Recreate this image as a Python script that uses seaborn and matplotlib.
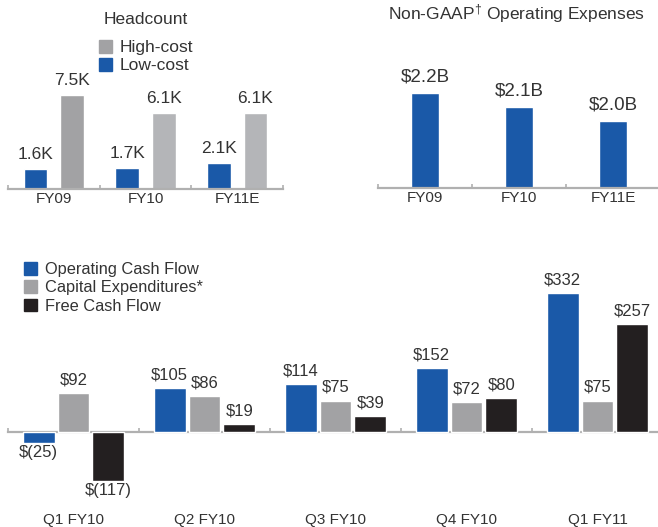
import numpy as np
import pandas as pd
import seaborn as sns
import matplotlib.pyplot as plt
from matplotlib.patches import Patch

# data
years = ["FY09", "FY10", "FY11E"]
low_cost = [1.6, 1.7, 2.1]      # K heads
high_cost = [7.5, 6.1, 6.1]
opex = [2.2, 2.1, 2.0]          # $B
quarters = ["Q1 FY10", "Q2 FY10", "Q3 FY10", "Q4 FY10", "Q1 FY11"]
ocf = [-25, 105, 114, 152, 332]  # $M
capex = [92, 86, 75, 72, 75]
fcf = [-117, 19, 39, 80, 257]

BLUE = "#1a59a8"
GRAY = "#a2a2a4"
LGRAY = "#b4b5b8"
BLACK = "#231f20"
AXC = "#b0b0b0"
TXT = "#333333"

sns.set_theme(style="white")
plt.rcParams["font.family"] = ["Liberation Sans", "DejaVu Sans"]
plt.rcParams["mathtext.fontset"] = "custom"
plt.rcParams["mathtext.rm"] = "Liberation Sans"
plt.rcParams["mathtext.default"] = "regular"

W, H = 658, 527
fig = plt.figure(figsize=(W / 100, H / 100), dpi=100)


def px_axes(left, right, base, top):
    return fig.add_axes([left / W, 1 - base / H, (right - left) / W, (base - top) / H])


def style(ax, n, pad=2):
    for s in ["left", "top", "right"]:
        ax.spines[s].set_visible(False)
    ax.spines["bottom"].set_color(AXC)
    ax.spines["bottom"].set_linewidth(1.6)
    ax.set_xlim(-0.5, n - 0.5)
    ax.set_yticks([])
    ax.set_xlabel("")
    ax.set_ylabel("")
    ax.set_xticks(np.arange(n + 1) - 0.5, minor=True)
    ax.tick_params(axis="x", which="major", bottom=True, length=0, labelsize=11,
                   labelcolor=TXT, pad=pad)
    ax.tick_params(axis="x", which="minor", bottom=True, direction="in", length=3,
                   width=1.2, color=AXC)
    ax.set_facecolor("none")


def label_bars(ax, bars, labels, size=11.5, up=5, down=2):
    for b, t in zip(bars, labels):
        h = b.get_height()
        x = b.get_x() + b.get_width() / 2
        if h >= 0:
            ax.annotate(t, (x, b.get_y() + h), xytext=(0, up), textcoords="offset points",
                        ha="center", va="bottom", fontsize=size, color=TXT, annotation_clip=False)
        else:
            ax.annotate(t, (x, b.get_y() + h), xytext=(0, -down), textcoords="offset points",
                        ha="center", va="top", fontsize=size, color=TXT, annotation_clip=False)


# Headcount
ax1 = px_axes(8, 283, 189, 89)
df_head = pd.DataFrame({
    "year": years * 2,
    "type": ["Low-cost"] * 3 + ["High-cost"] * 3,
    "count": low_cost + high_cost,
})
sns.barplot(data=df_head, x="year", y="count", hue="type", palette=[BLUE, GRAY],
            width=0.8, gap=0.35, saturation=1, legend=False, ax=ax1)
for p in ax1.containers[1].patches[1:]:
    p.set_facecolor(LGRAY)
ax1.set_ylim(0, 8.0)
style(ax1, 3)
label_bars(ax1, ax1.containers[0], [f"{v:.1f}K" for v in low_cost], size=12.5)
label_bars(ax1, ax1.containers[1], [f"{v:.1f}K" for v in high_cost], size=12.5)
fig.text(146 / W, 1 - 20 / H, "Headcount", ha="center", va="center", fontsize=12.5, color=TXT)
fig.legend(handles=[Patch(color=GRAY, label="High-cost"), Patch(color=BLUE, label="Low-cost")],
           loc="upper left", bbox_to_anchor=(99 / W, 1 - 40 / H), frameon=False, fontsize=12.5,
           labelcolor=TXT, handlelength=0.75, handleheight=0.75, handletextpad=0.45,
           labelspacing=0.15, borderpad=0, borderaxespad=0)

# Non-GAAP operating expenses
ax2 = px_axes(378, 660, 188, 88)
df_opex = pd.DataFrame({"year": years, "opex": opex})
sns.barplot(data=df_opex, x="year", y="opex", color=BLUE, width=0.3, saturation=1, ax=ax2)
ax2.set_ylim(1.52, 1.52 + 100 / 140)
style(ax2, 3)
for c in ax2.containers:
    label_bars(ax2, c, [f"${v:.1f}B" for v in opex], size=13.5)
fig.text(517 / W, 1 - 14 / H, r"Non-GAAP$^{\dagger}$ Operating Expenses", ha="center",
         va="center", fontsize=12.5, color=TXT)

# Cash flow
ax3 = px_axes(8, 663, 432 + 130 * 0.42, 432 - 350 * 0.42)
df_cash = pd.DataFrame({
    "quarter": quarters * 3,
    "series": ["Operating Cash Flow"] * 5 + ["Capital Expenditures*"] * 5 + ["Free Cash Flow"] * 5,
    "value": ocf + capex + fcf,
})
sns.barplot(data=df_cash, x="quarter", y="value", hue="series", palette=[BLUE, GRAY, BLACK],
            width=0.8, gap=0.085, saturation=1, legend=False, ax=ax3)
ax3.set_ylim(-130, 350)
style(ax3, 5, pad=58)
ax3.spines["bottom"].set_position(("data", 0))
ax3.spines["bottom"].set_zorder(0.5)


def money(v):
    return f"$({-v})" if v < 0 else f"${v}"


for c, vals in zip(ax3.containers, [ocf, capex, fcf]):
    label_bars(ax3, c, [money(v) for v in vals], size=12, up=4, down=1.5)

fig.legend(handles=[Patch(color=BLUE, label="Operating Cash Flow"),
                    Patch(color=GRAY, label="Capital Expenditures*"),
                    Patch(color=BLACK, label="Free Cash Flow")],
           loc="upper left", bbox_to_anchor=(24 / W, 1 - 262 / H), frameon=False, fontsize=11.8,
           labelcolor=TXT, handlelength=0.8, handleheight=0.8, handletextpad=0.5,
           labelspacing=0.2, borderpad=0, borderaxespad=0)

fig.savefig("out.png", dpi=100)
